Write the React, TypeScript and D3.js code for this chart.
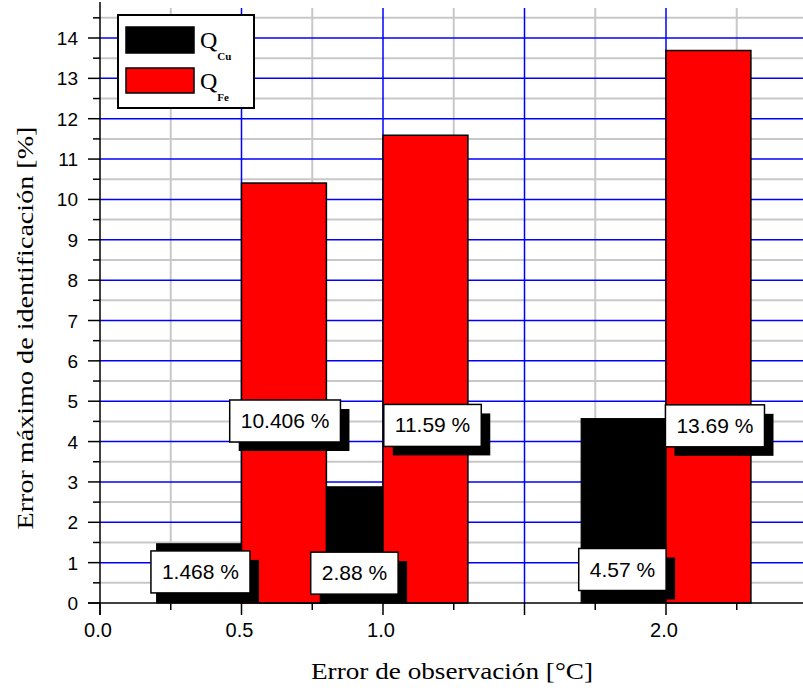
import React, { useEffect, useRef } from "react";
import * as d3 from "d3";

// ---- data ----
const groups = [0.5, 1.0, 2.0];
const qCu = [1.468, 2.88, 4.57];
const qFe = [10.406, 11.59, 13.69];
const cuLabels = ["1.468 %", "2.88 %", "4.57 %"];
const feLabels = ["10.406 %", "11.59 %", "13.69 %"];
// annotation anchors (data units)
const cuLabelX = [0.355, 0.899, 1.846];
const cuLabelY = [0.77, 0.74, 0.83];
const feLabelX = [0.654, 1.175, 2.173];
const feLabelY = [4.51, 4.4, 4.39];
const xMajorTicks = [0, 0.5, 1.0, 1.5, 2.0, 2.5];
const xTickLabels = ["0.0", "0.5", "1.0", "", "2.0", ""];
const xMinorTicks = [0.25, 0.75, 1.25, 1.75, 2.25];
const yMajorTicks = d3.range(0, 15, 1);
const yMinorTicks = d3.range(0.5, 15, 1);
const barWidth = 0.3;

const W = 803;
const H = 692;

export default function App() {
  const ref = useRef<SVGSVGElement>(null);

  useEffect(() => {
    const svg = d3.select(ref.current);
    svg.selectAll("*").remove();

    const x = d3.scaleLinear().domain([0, 2.5]).range([100, 100 + 2.5 * 283]);
    const y = d3.scaleLinear().domain([0, 14]).range([603, 38]);
    const plotTop = 8;
    const plotRight = W;

    const grid = svg.append("g");
    // horizontal minor (grey)
    yMinorTicks.forEach((v) => {
      if (y(v) < plotTop) return;
      grid.append("line").attr("x1", 100).attr("x2", plotRight).attr("y1", y(v)).attr("y2", y(v))
        .attr("stroke", "#c8c8c8").attr("stroke-width", 2);
    });
    // vertical minor (grey)
    xMinorTicks.forEach((v) => {
      grid.append("line").attr("x1", x(v)).attr("x2", x(v)).attr("y1", plotTop).attr("y2", y(0))
        .attr("stroke", "#c8c8c8").attr("stroke-width", 2);
    });
    // horizontal major (blue)
    yMajorTicks.forEach((v) => {
      if (v === 0) return;
      grid.append("line").attr("x1", 100).attr("x2", plotRight).attr("y1", y(v)).attr("y2", y(v))
        .attr("stroke", "#0000ff").attr("stroke-width", 1.5);
    });
    // vertical major (blue)
    xMajorTicks.forEach((v) => {
      if (v === 0) return;
      grid.append("line").attr("x1", x(v)).attr("x2", x(v)).attr("y1", plotTop).attr("y2", y(0))
        .attr("stroke", "#0000ff").attr("stroke-width", 1.5);
    });

    // bars
    const bars = svg.append("g");
    groups.forEach((g, i) => {
      bars.append("rect").attr("x", x(g - barWidth)).attr("y", y(qCu[i]))
        .attr("width", x(g) - x(g - barWidth)).attr("height", y(0) - y(qCu[i]))
        .attr("fill", "#000").attr("stroke", "#000").attr("stroke-width", 1);
    });
    groups.forEach((g, i) => {
      bars.append("rect").attr("x", x(g)).attr("y", y(qFe[i]))
        .attr("width", x(g + barWidth) - x(g)).attr("height", y(0) - y(qFe[i]))
        .attr("fill", "#ff0000").attr("stroke", "#000").attr("stroke-width", 1.5);
    });

    // axes
    const ax = svg.append("g").attr("stroke", "#000");
    ax.append("line").attr("x1", 100).attr("x2", 100).attr("y1", 2).attr("y2", 615).attr("stroke-width", 1.5);
    ax.append("line").attr("x1", 88).attr("x2", W).attr("y1", y(0)).attr("y2", y(0)).attr("stroke-width", 1.5);
    yMajorTicks.forEach((v) => {
      ax.append("line").attr("x1", 88).attr("x2", 100).attr("y1", y(v)).attr("y2", y(v)).attr("stroke-width", 1.5);
    });
    yMinorTicks.forEach((v) => {
      if (y(v) < 2) return;
      ax.append("line").attr("x1", 93).attr("x2", 100).attr("y1", y(v)).attr("y2", y(v)).attr("stroke-width", 1.5);
    });
    xMajorTicks.forEach((v) => {
      ax.append("line").attr("x1", x(v)).attr("x2", x(v)).attr("y1", y(0)).attr("y2", y(0) + 12).attr("stroke-width", 1.5);
    });
    xMinorTicks.forEach((v) => {
      ax.append("line").attr("x1", x(v)).attr("x2", x(v)).attr("y1", y(0)).attr("y2", y(0) + 7).attr("stroke-width", 1.5);
    });

    const tickFont = "'Liberation Sans', Arial, sans-serif";
    yMajorTicks.forEach((v) => {
      svg.append("text").attr("x", 78).attr("y", y(v) + 7).attr("text-anchor", "end")
        .attr("font-family", tickFont).attr("font-size", 19).attr("fill", "#000").text(String(v));
    });
    xMajorTicks.forEach((v, i) => {
      if (!xTickLabels[i]) return;
      svg.append("text").attr("x", x(v) - 2).attr("y", 637).attr("text-anchor", "middle")
        .attr("font-family", tickFont).attr("font-size", 20).attr("fill", "#000").text(xTickLabels[i]);
    });

    // titles
    const serif = "'Liberation Serif', 'Times New Roman', serif";
    svg.append("text").attr("x", 452).attr("y", 679).attr("text-anchor", "middle")
      .attr("font-family", serif).attr("font-size", 23).attr("fill", "#000")
      .attr("textLength", 282).attr("lengthAdjust", "spacingAndGlyphs")
      .text("Error de observación [°C]");
    svg.append("text").attr("transform", "translate(33,328) rotate(-90)").attr("text-anchor", "middle")
      .attr("font-family", serif).attr("font-size", 23).attr("fill", "#000")
      .attr("textLength", 403).attr("lengthAdjust", "spacingAndGlyphs")
      .text("Error máximo de identificación [%]");

    // legend
    const lg = svg.append("g");
    lg.append("rect").attr("x", 118).attr("y", 15).attr("width", 136).attr("height", 93)
      .attr("fill", "#fff").attr("stroke", "#000").attr("stroke-width", 2);
    lg.append("rect").attr("x", 126).attr("y", 27).attr("width", 68).attr("height", 26)
      .attr("fill", "#000").attr("stroke", "#000").attr("stroke-width", 1.5);
    lg.append("rect").attr("x", 126).attr("y", 68).attr("width", 68).attr("height", 25)
      .attr("fill", "#ff0000").attr("stroke", "#000").attr("stroke-width", 1.5);
    const legendNames: [string, string][] = [["Q", "Cu"], ["Q", "Fe"]];
    legendNames.forEach(([main, sub], i) => {
      const t = lg.append("text").attr("x", 200).attr("y", 48 + i * 41)
        .attr("font-family", serif).attr("font-size", 24).attr("fill", "#000");
      t.append("tspan").text(main);
      t.append("tspan").attr("dy", 12).attr("font-size", 11).attr("font-weight", "bold").text(sub);
    });

    // annotations
    const lblFont = "'Liberation Sans', Arial, sans-serif";
    const drawLabel = (cx: number, cy: number, txt: string) => {
      const g = svg.append("g");
      const shadow = g.append("rect");
      const box = g.append("rect");
      const t = g.append("text").attr("x", cx).attr("y", cy + 7).attr("text-anchor", "middle")
        .attr("font-family", lblFont).attr("font-size", 21).attr("fill", "#000").text(txt);
      const tw = (t.node() as SVGTextElement).getComputedTextLength();
      const bw = tw + 22;
      const bh = 42;
      shadow.attr("x", cx - bw / 2 + 9).attr("y", cy - bh / 2 + 9).attr("width", bw).attr("height", bh).attr("fill", "#000");
      box.attr("x", cx - bw / 2).attr("y", cy - bh / 2).attr("width", bw).attr("height", bh)
        .attr("fill", "#fff").attr("stroke", "#000").attr("stroke-width", 1.5);
    };
    groups.forEach((_, i) => {
      drawLabel(x(feLabelX[i]), y(feLabelY[i]), feLabels[i]);
      drawLabel(x(cuLabelX[i]), y(cuLabelY[i]), cuLabels[i]);
    });
  }, []);

  return (
    <svg ref={ref} width={W} height={H}
      style={{ position: "absolute", left: 0, top: 0, background: "#fff", display: "block" }} />
  );
}
